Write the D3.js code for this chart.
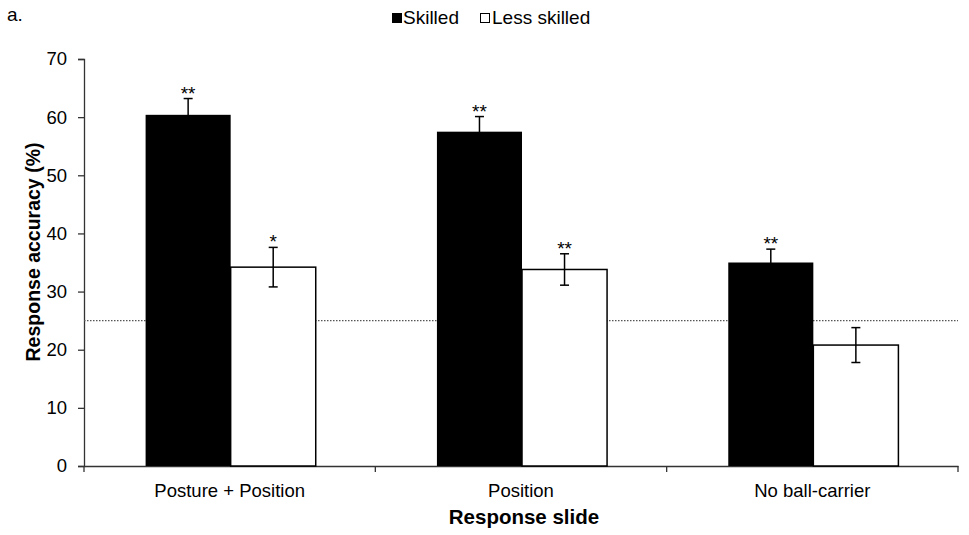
<!DOCTYPE html>
<html><head><meta charset="utf-8">
<script src="https://cdn.jsdelivr.net/npm/d3@7"></script>
<style>body{margin:0;background:#fff}svg{display:block}text{font-family:"Liberation Sans",Arial,sans-serif;fill:#000}</style>
</head><body>
<svg id="c" width="969" height="535"></svg>
<script>
const categories = ["Posture + Position", "Position", "No ball-carrier"];
const seriesNames = ["Skilled", "Less skilled"];
const skilled = [60.4, 57.5, 35.0];
const lessSkilled = [34.2, 33.8, 20.8];
const skilledErr = [2.8, 2.6, 2.3];
const lessSkilledErr = [3.4, 2.7, 3.0];
const skilledSig = ["**", "**", "**"];
const lessSkilledSig = ["*", "**", ""];
const chanceLevel = 25;
const yTicks = [0, 10, 20, 30, 40, 50, 60, 70];

(function(){
const svg = d3.select("#c");
const pL = 84, pR = 958, pT = 59, pB = 466;
const x = d3.scaleBand().domain(categories).range([pL, pR]).paddingInner(0).paddingOuter(0);
const y = d3.scaleLinear().domain([0, 70]).range([pB, pT]);
const barW = x.bandwidth() * 0.292;
const FF = '"Liberation Sans",Arial,sans-serif';
const AX = "#333";

// y axis
const ya = svg.append("g").attr("transform", `translate(${pL},0)`)
  .call(d3.axisLeft(y).tickValues(yTicks).tickSize(6).tickPadding(11));
ya.select(".domain").attr("stroke", AX).attr("stroke-width", 1.3);
ya.selectAll(".tick line").attr("stroke", AX).attr("stroke-width", 1.3);
ya.selectAll(".tick text").attr("font-size", 18.5).style("font-family", FF).attr("fill", "#000");

// x axis
const xa = svg.append("g").attr("transform", `translate(0,${pB})`)
  .call(d3.axisBottom(x).tickSize(0).tickSizeOuter(0).tickPadding(18));
xa.select(".domain").attr("stroke", AX).attr("stroke-width", 1.3);
xa.selectAll(".tick text").attr("font-size", 18.5).style("font-family", FF).attr("fill", "#000");
const bounds = categories.map(c => x(c)).concat([x(categories[categories.length-1]) + x.bandwidth()]);
svg.append("g").selectAll("line").data(bounds).join("line")
  .attr("x1", d => d).attr("x2", d => d).attr("y1", pB).attr("y2", pB + 6)
  .attr("stroke", AX).attr("stroke-width", 1.3);

// chance line
svg.append("line").attr("x1", pL).attr("x2", pR).attr("y1", y(chanceLevel)).attr("y2", y(chanceLevel))
  .attr("stroke", "#555").attr("stroke-width", 1.2).attr("stroke-dasharray", "1.5,1.5");

const data = categories.map((c, i) => ({c, s: skilled[i], l: lessSkilled[i], se: skilledErr[i], le: lessSkilledErr[i], ss: skilledSig[i], ls: lessSkilledSig[i]}));
const mid = c => x(c) + x.bandwidth() / 2 + 1;

svg.append("g").selectAll("rect").data(data).join("rect")
  .attr("x", d => mid(d.c) - barW).attr("width", barW)
  .attr("y", d => y(d.s)).attr("height", d => y(0) - y(d.s))
  .attr("fill", "#000");
svg.append("g").selectAll("rect").data(data).join("rect")
  .attr("x", d => mid(d.c)).attr("width", barW)
  .attr("y", d => y(d.l)).attr("height", d => y(0) - y(d.l))
  .attr("fill", "#fff").attr("stroke", "#000").attr("stroke-width", 1.5);

function errBar(g, cx, v, e, cap) {
  g.append("line").attr("x1", cx).attr("x2", cx).attr("y1", y(v + e)).attr("y2", y(v - e)).attr("stroke", "#000").attr("stroke-width", 1.5);
  g.append("line").attr("x1", cx - cap).attr("x2", cx + cap).attr("y1", y(v + e)).attr("y2", y(v + e)).attr("stroke", "#000").attr("stroke-width", 1.5);
  g.append("line").attr("x1", cx - cap).attr("x2", cx + cap).attr("y1", y(v - e)).attr("y2", y(v - e)).attr("stroke", "#000").attr("stroke-width", 1.5);
}
const eg = svg.append("g");
data.forEach(d => {
  const cs = mid(d.c) - barW / 2, cl = mid(d.c) + barW / 2;
  errBar(eg.append("g"), cs, d.s, d.se, 4.5);
  errBar(eg.append("g"), cl, d.l, d.le, 4.5);
  eg.append("text").attr("x", cs).attr("y", y(d.s + d.se) + 1).attr("text-anchor", "middle").attr("font-size", 19).text(d.ss);
  eg.append("text").attr("x", cl).attr("y", y(d.l + d.le) + 1).attr("text-anchor", "middle").attr("font-size", 19).text(d.ls);
});

svg.append("text").attr("transform", `translate(40,252) rotate(-90)`)
  .attr("text-anchor", "middle").attr("font-size", 19.5).attr("font-weight", "bold").text("Response accuracy (%)");
svg.append("text").attr("x", 524).attr("y", 524)
  .attr("text-anchor", "middle").attr("font-size", 20.5).attr("font-weight", "bold").text("Response slide");

svg.append("text").attr("x", 7).attr("y", 21).attr("font-size", 19).text("a.");

const lg = svg.append("g");
lg.append("rect").attr("x", 392).attr("y", 13).attr("width", 10).attr("height", 10).attr("fill", "#000");
lg.append("text").attr("x", 403).attr("y", 24).attr("font-size", 19).text(seriesNames[0]);
lg.append("rect").attr("x", 480.5).attr("y", 13.5).attr("width", 9).attr("height", 9).attr("fill", "#fff").attr("stroke", "#000").attr("stroke-width", 1);
lg.append("text").attr("x", 492).attr("y", 24).attr("font-size", 19).text(seriesNames[1]);
})();
</script>
</body></html>
